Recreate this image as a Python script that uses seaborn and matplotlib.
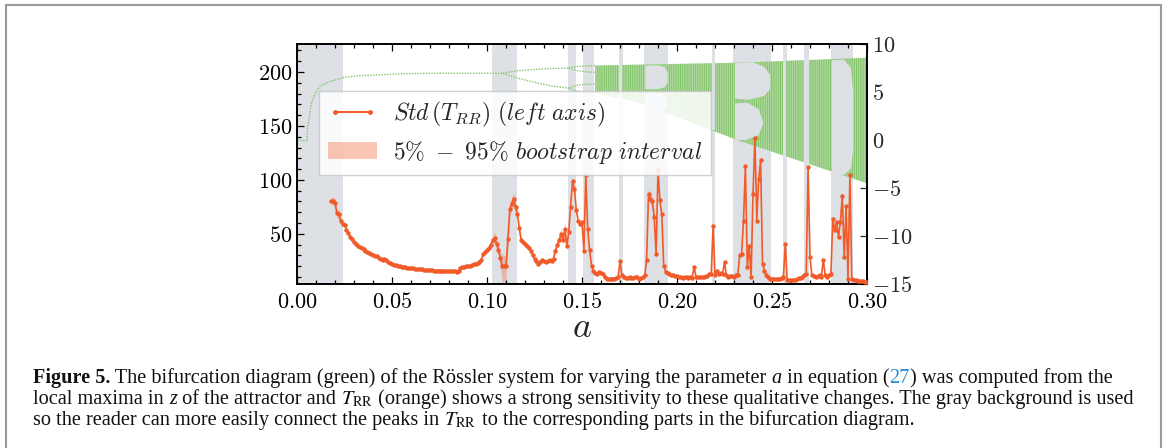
import numpy as np
import matplotlib
matplotlib.use("Agg")
import matplotlib.pyplot as plt
import seaborn as sns
from matplotlib.lines import Line2D
from matplotlib.patches import Patch, Rectangle
from matplotlib.ticker import MultipleLocator, FuncFormatter, FixedLocator

# ---------------- data ----------------
a_first = 0.018
a_step = 0.001
std_trr = [
    80, 80,
    79, 69, 68, 62, 59, 58, 54, 51, 47, 45,
    42, 41, 39, 38, 37, 36, 34, 33, 32, 31,
    30.5, 29.5, 29, 28, 27, 26, 27, 26, 24, 23,
    22, 21.5, 21, 20.5, 20, 19.5, 19, 19, 18.5, 18.5,
    18, 18, 17.5, 17.5, 17.2, 17, 17, 16.8, 16.5, 16.5,
    16.3, 16.2, 16, 16, 16, 16, 15.8, 15.8, 15.6, 15.6,
    15.5, 15.5, 15.4, 15.4, 14.2, 16, 18.5, 19, 19.5, 20,
    20, 20.5, 21, 22, 22.5, 23, 24, 26, 31, 33,
    35, 37, 40, 44, 46, 41, 35, 28, 20, 20,
    20, 45, 73, 78, 82, 75, 68, 55, 44, 42,
    41, 39, 37, 34.5, 30, 27, 25, 22, 24, 26,
    25, 24, 25, 26, 25, 27, 34.5, 40, 44, 50,
    44, 54.6, 39, 51.5, 74.6, 98.7, 92, 72, 62, 59,
    60.7, 34.5, 105, 54.6, 35, 20.6, 16, 14, 13, 15,
    13.5, 13, 10, 8.3, 8.5, 8.3, 8.5, 8.3, 9, 9.8,
    24.6, 11.4, 10, 9.5, 9.5, 10, 9.5, 9, 10, 10,
    8.3, 9, 10, 11.4, 25.3, 87, 82.5, 80, 65.4, 31.5,
    109, 81, 68.5, 20.6, 15, 14, 13, 12, 11.4, 11,
    10.5, 10, 10, 9.5, 10, 10, 9.5, 10, 9.5, 19.7,
    10, 10, 10, 10, 10, 10.5, 11, 13, 13, 57.7,
    11.4, 16, 13, 14, 13, 23.7, 11.4, 10, 11, 10.5,
    10, 11.4, 12, 30, 31.5, 62.3, 113, 19, 38.7, 10,
    87, 139, 62.3, 101, 118, 22, 16, 12, 10, 8.3,
    8.3, 8, 8.3, 8.5, 8.3, 9, 10, 40.7, 7, 7,
    7, 7, 7.5, 8, 9, 9.5, 10, 12, 13, 111.7,
    28.3, 11.4, 10.5, 10, 10.5, 11.4, 10, 26, 11.4, 10,
    11.4, 13, 64, 53.4, 61, 47, 61, 85.5, 28.3, 76,
    8.3, 105, 8.3, 7.5, 7, 6.5, 6.5, 6, 6, 5.5,
    5,
]

# bootstrap interval (only where it is visibly wider than the line)
ci1_a = [0.018, 0.019, 0.020, 0.021, 0.022, 0.023, 0.024]
ci1_lo = [77, 77, 75, 65, 64, 59, 56]
ci1_hi = [84, 84, 83, 73, 72, 65, 62]
ci2_a = [0.100, 0.101, 0.102, 0.103, 0.104, 0.105, 0.106, 0.107, 0.108, 0.109,
         0.110, 0.111, 0.112, 0.113, 0.114, 0.115, 0.116, 0.117, 0.118, 0.119, 0.120]
ci2_lo = [33, 35, 37, 40, 42, 37, 30, 20, 6, 4, 8, 35, 65, 73, 77, 70, 64, 50, 41, 40, 39]
ci2_hi = [37, 39, 43, 48, 52, 46, 40, 34, 31, 30, 30, 55, 80, 84, 88, 80, 72, 60, 47, 44, 43]
ci3_a = [0.136, 0.137, 0.138, 0.139, 0.140, 0.141, 0.142, 0.143]
ci3_lo = [31, 36, 40, 45, 40, 49, 35, 47]
ci3_hi = [38, 44, 49, 56, 49, 60, 45, 56]
ci4_a = [0.185, 0.186, 0.187, 0.188, 0.189, 0.190]
ci4_lo = [82, 78, 75, 60, 26, 104]
ci4_hi = [92, 87, 85, 71, 37, 112]

# gray background bands
band_start = [0.0, 0.1026, 0.1425, 0.1507, 0.1695, 0.1828, 0.2183, 0.2296, 0.2556, 0.2668, 0.2811]
band_end = [0.0242, 0.1158, 0.1467, 0.1565, 0.1714, 0.1954, 0.2200, 0.2493, 0.2577, 0.2696, 0.2928]

# bifurcation diagram (right axis)
fix_a = [0.0, 0.0054]
fix_v = [0.0, 0.0]
p1_a = [0.0054, 0.0054, 0.0065, 0.0077, 0.0095, 0.012, 0.0174, 0.0244, 0.033, 0.044, 0.056, 0.07, 0.09, 0.1084]
p1_v = [0.0, 1.0, 2.5, 3.9, 4.8, 5.6, 6.1, 6.5, 6.7, 6.8, 6.9, 6.95, 6.95, 6.95]
p2_a = [0.1084, 0.115, 0.125, 0.135, 0.143]
p2_up = [6.95, 7.2, 7.35, 7.45, 7.5]
p2_lo = [6.95, 6.5, 6.0, 5.6, 5.4]
p4_a = [0.143, 0.147, 0.152, 0.157]
p4_uu = [7.5, 7.65, 7.72, 7.75]
p4_ul = [7.5, 7.25, 7.1, 7.05]
p4_lu = [5.4, 5.7, 5.8, 5.85]
p4_ll = [5.4, 5.1, 4.95, 4.9]
ch_a = [0.157, 0.180, 0.233, 0.265, 0.300]
ch_top = [7.75, 7.85, 8.05, 8.30, 8.57]
ch_bot = [4.9, 3.9, -0.1, -2.2, -4.5]

# periodic windows inside the chaotic region (outline polygons)
win_a = [
    [0.1697, 0.1697, 0.1712, 0.1712],
    [0.1833, 0.1833, 0.1900, 0.1935, 0.1952, 0.1952, 0.1935, 0.1900],
    [0.1833, 0.1833, 0.1900, 0.1932, 0.1948, 0.1948, 0.1932, 0.1900],
    [0.2185, 0.2185, 0.2198, 0.2198],
    [0.2305, 0.2305, 0.2400, 0.2460, 0.2490, 0.2490, 0.2460, 0.2380],
    [0.2305, 0.2305, 0.2370, 0.2430, 0.2455, 0.2430, 0.2360],
    [0.2558, 0.2558, 0.2575, 0.2575],
    [0.2670, 0.2670, 0.2694, 0.2694],
    [0.2815, 0.2815, 0.2880, 0.2915, 0.2928, 0.2928, 0.2915, 0.2880],
]
win_v = [
    [4.0, 7.85, 7.85, 4.0],
    [5.3, 7.75, 7.78, 7.6, 7.0, 6.0, 5.5, 5.3],
    [2.8, 4.9, 4.9, 4.7, 4.2, 3.5, 3.0, 2.8],
    [1.0, 8.05, 8.05, 1.0],
    [4.3, 8.0, 8.1, 7.6, 6.8, 5.3, 4.6, 4.2],
    [0.0, 3.8, 3.9, 3.2, 1.8, 0.5, 0.0],
    [-2.0, 8.3, 8.3, -2.0],
    [-2.6, 8.35, 8.35, -2.6],
    [-3.6, 8.3, 8.35, 7.5, 5.0, -1.0, -3.0, -3.6],
]

x_ticks = [0.00, 0.05, 0.10, 0.15, 0.20, 0.25, 0.30]
left_ticks = [50, 100, 150, 200]
right_ticks = [-15, -10, -5, 0, 5, 10]

legend_labels = [r"$Std\,(T_{RR})\ (left\ axis)$", r"$5\%\ -\ 95\%\ bootstrap\ interval$"]

caption_lines = [
    [("Figure 5.", "bold"), (" The bifurcation diagram (green) of the Rössler system for varying the parameter ", "n"),
     ("a", "it"), (" in equation (", "n"), ("27", "blue"), (") was computed from the", "n")],
    [("local maxima in ", "n"), ("z", "it"), (" of the attractor and ", "n"), (r"$T_{\mathrm{RR}}$", "n"),
     (" (orange) shows a strong sensitivity to these qualitative changes. The gray background is used", "n")],
    [("so the reader can more easily connect the peaks in ", "n"), (r"$T_{\mathrm{RR}}$", "n"),
     (" to the corresponding parts in the bifurcation diagram.", "n")],
]

# ---------------- style ----------------
sns.set_theme(style="ticks")
plt.rcParams["mathtext.fontset"] = "cm"
plt.rcParams["hatch.linewidth"] = 0.75

ORANGE = "#f15a29"
GREEN = "#84c46c"
GREEN_FILL = "#b9dfaa"
BAND = "#dde1e6"

W, H = 1166, 448
fig = plt.figure(figsize=(W / 100, H / 100), dpi=100)
fig.patch.set_facecolor("white")

ax1 = fig.add_axes([297 / W, 1 - 284 / H, 570 / W, 240 / H])
ax2 = ax1.twinx()
ax1.set_zorder(ax2.get_zorder() + 1)
ax1.patch.set_visible(False)

# bands
for s, e in zip(band_start, band_end):
    ax2.axvspan(s, e, color=BAND, lw=0, zorder=0)

# bifurcation diagram
dot = dict(color=GREEN, lw=1.0, ls=(0, (1, 1)), zorder=2)
ax2.plot(fix_a, fix_v, **dot)
ax2.plot(p1_a, p1_v, **dot)
ax2.plot(p2_a, p2_up, **dot)
ax2.plot(p2_a, p2_lo, **dot)
for arr in (p4_uu, p4_ul, p4_lu, p4_ll):
    ax2.plot(p4_a, arr, **dot)
ax2.fill_between(ch_a, ch_bot, ch_top, facecolor=GREEN_FILL, edgecolor=GREEN,
                 hatch="|||||||||", lw=0, zorder=1)
for wa, wv in zip(win_a, win_v):
    ax2.fill(wa, wv, color=BAND, lw=0, zorder=1.5)

# Std(T_RR)
a_vals = a_first + a_step * np.arange(len(std_trr))
for ca, lo, hi in ((ci1_a, ci1_lo, ci1_hi), (ci2_a, ci2_lo, ci2_hi),
                   (ci3_a, ci3_lo, ci3_hi), (ci4_a, ci4_lo, ci4_hi)):
    ax1.fill_between(ca, lo, hi, color=ORANGE, alpha=0.3, lw=0, zorder=2)
sns.lineplot(x=a_vals, y=std_trr, ax=ax1, color=ORANGE, lw=1.2, marker="o",
             markersize=3.2, markeredgewidth=0, zorder=3)

# axes
ax1.set_xlim(0, 0.30)
ax1.set_ylim(3.5, 226)
ax2.set_ylim(-15, 10)
ax1.xaxis.set_major_locator(FixedLocator(x_ticks))
ax1.xaxis.set_minor_locator(MultipleLocator(0.01))
ax1.yaxis.set_major_locator(FixedLocator(left_ticks))
ax1.yaxis.set_minor_locator(MultipleLocator(10))
ax2.yaxis.set_major_locator(FixedLocator(right_ticks))
ax2.yaxis.set_minor_locator(MultipleLocator(1))
ax1.xaxis.set_major_formatter(FuncFormatter(lambda v, p: f"${v:.2f}$"))
ax1.yaxis.set_major_formatter(FuncFormatter(lambda v, p: f"${int(round(v))}$"))
ax2.yaxis.set_major_formatter(FuncFormatter(lambda v, p: f"${int(round(v))}$"))

ax1.tick_params(axis="both", which="both", direction="in", top=True, right=False,
                labelsize=16, colors="black", width=0.9)
ax1.tick_params(which="major", length=5)
ax1.tick_params(which="minor", length=3)
ax1.tick_params(axis="x", pad=6)
ax2.tick_params(axis="y", which="both", direction="in", labelsize=16, width=0.9)
ax2.tick_params(which="major", length=5)
ax2.tick_params(which="minor", length=0)
ax1.set_xlabel("$a$", fontsize=26, labelpad=-2)
for ax in (ax1, ax2):
    for sp in ax.spines.values():
        sp.set_color("black")
        sp.set_linewidth(1.2)

handles = [Line2D([0], [0], color=ORANGE, lw=1.4, marker="o", markersize=3.5, markeredgewidth=0),
           Patch(facecolor=ORANGE, alpha=0.35, lw=0)]
leg = ax1.legend(handles, legend_labels, loc="upper left", bbox_to_anchor=(0.0386, 0.804),
                 borderaxespad=0, fontsize=17, frameon=True, fancybox=False, framealpha=0.85,
                 edgecolor="#c8c8c8", numpoints=2, handlelength=2.07, handleheight=0.72,
                 borderpad=0.38, labelspacing=0.4, handletextpad=0.68)
leg.get_frame().set_linewidth(1.0)

# border of the figure box
fig.patches.append(Rectangle((5.5 / W, -0.1), (1161 - 5.5) / W, 1.1 - 5.5 / H, transform=fig.transFigure,
                             fill=False, edgecolor="#9a9a9a", lw=1.5))

# caption
renderer = fig.canvas.get_renderer()
CAPFONT = "Liberation Serif"


def piece_kw(kind, fs):
    kw = dict(fontfamily=CAPFONT, fontsize=fs, color="#111111", math_fontfamily="stix")
    if kind == "bold":
        kw["fontweight"] = "bold"
    if kind == "it":
        kw["fontstyle"] = "italic"
    if kind == "blue":
        kw["color"] = "#2b8fd6"
    return kw


def width_of(s, kw):
    t1 = fig.text(0, 0, "I" + s + "I", **kw)
    w1 = t1.get_window_extent(renderer).width
    t1.remove()
    t2 = fig.text(0, 0, "II", **kw)
    w2 = t2.get_window_extent(renderer).width
    t2.remove()
    return w1 - w2


fs0 = 14.0
w_line2 = sum(width_of(s, piece_kw(k, fs0)) for s, k in caption_lines[1])
fs = fs0 * (1135 - 33) / w_line2
baselines = [383, 404, 425]
for line, yb in zip(caption_lines, baselines):
    x = 33.0
    for s, k in line:
        kw = piece_kw(k, fs)
        fig.text(x / W, 1 - yb / H, s, va="baseline", ha="left", **kw)
        x += width_of(s, kw)

fig.savefig("out.png", dpi=100, facecolor="white")
